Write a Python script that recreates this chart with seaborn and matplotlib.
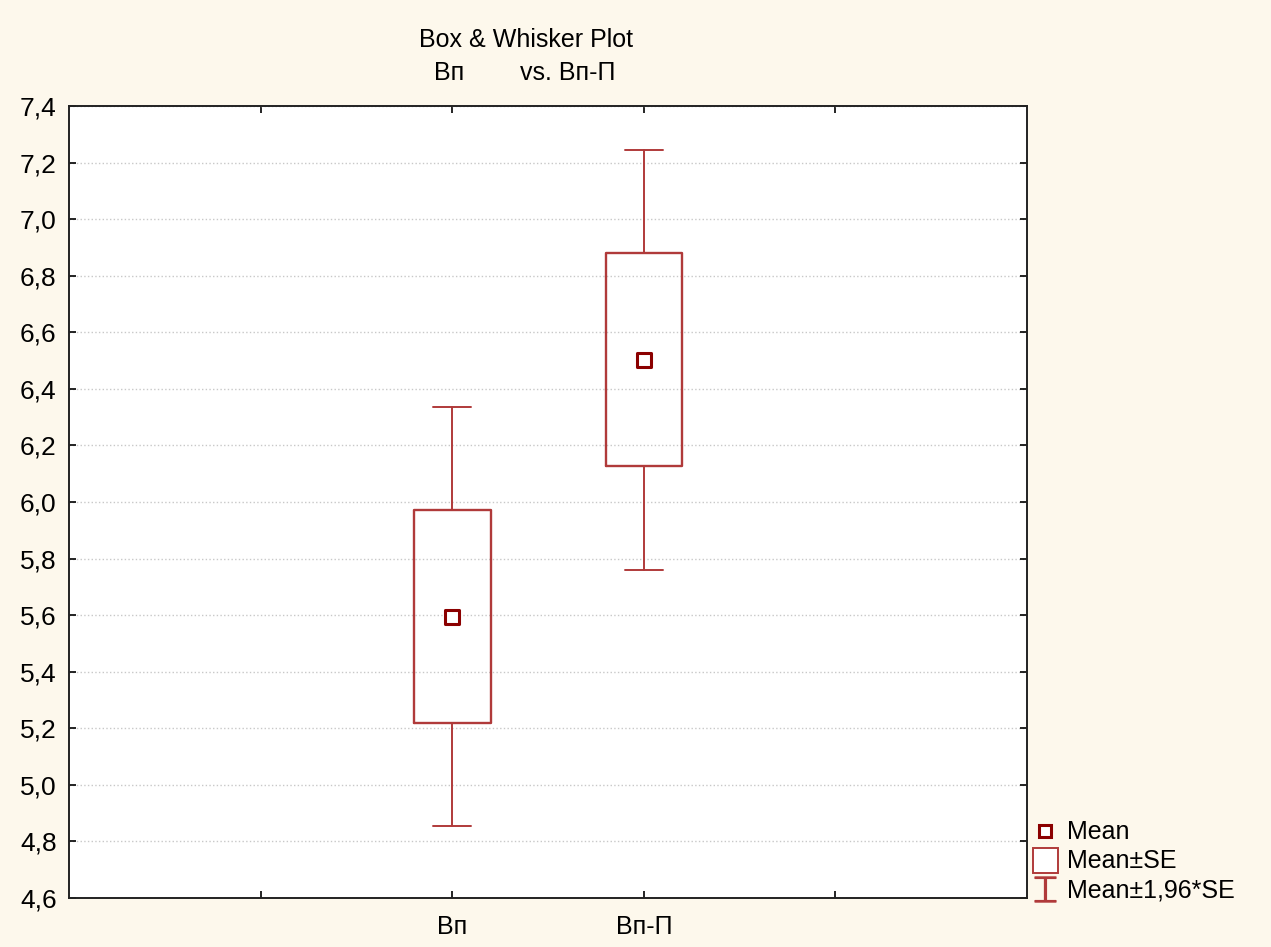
import numpy as np
import pandas as pd
import seaborn as sns
import matplotlib.pyplot as plt
from matplotlib.lines import Line2D
from matplotlib.ticker import FuncFormatter

# data
groups = ['Bп', 'Bп-П']
means = [5.594, 6.502]
se_low = [5.219, 6.127]
se_high = [5.972, 6.880]
ci_low = [4.855, 5.760]
ci_high = [6.336, 7.244]

box_col = '#b03a3a'
mean_col = '#8b0000'
bg = '#fdf8ec'

sns.set_theme(style='white')
plt.rcParams['font.family'] = ['Liberation Sans', 'DejaVu Sans']
plt.rcParams['text.color'] = 'black'
plt.rcParams['xtick.color'] = 'black'
plt.rcParams['ytick.color'] = 'black'

fig = plt.figure(figsize=(12.71, 9.47), dpi=100, facecolor=bg)
ax = fig.add_axes([0.0543, 0.0517, 0.7538, 0.8363])
ax.set_facecolor('white')

df = pd.DataFrame({'group': groups, 'mean': means})

# boxes: Mean±SE, whiskers: Mean±1,96*SE
stats = []
for i in range(len(groups)):
    stats.append({'med': means[i], 'q1': se_low[i], 'q3': se_high[i],
                  'whislo': ci_low[i], 'whishi': ci_high[i], 'fliers': []})
ax.bxp(stats, positions=range(len(groups)), widths=0.4, showcaps=True,
       boxprops=dict(color=box_col, lw=1.7),
       whiskerprops=dict(color=box_col, lw=1.4),
       capprops=dict(color=box_col, lw=1.4),
       medianprops=dict(lw=0),
       capwidths=0.2, manage_ticks=False)

sns.scatterplot(data=df, x='group', y='mean', marker='s', s=95,
                facecolor='white', edgecolor=mean_col, linewidth=2.2,
                ax=ax, zorder=5, legend=False)

ax.set_xlim(-2, 3)
ax.set_ylim(4.6, 7.4)
ax.set_yticks(np.arange(4.6, 7.41, 0.2))
ax.yaxis.set_major_formatter(FuncFormatter(lambda v, p: f'{v:.1f}'.replace('.', ',')))
ax.set_xticks([-1, 0, 1, 2])
ax.set_xticklabels(['', groups[0], groups[1], ''])
ax.set_xlabel('')
ax.set_ylabel('')
ax.grid(axis='y', color='#c8c8c8', ls=':', lw=1)
ax.tick_params(axis='y', labelsize=19, direction='in', length=5, width=1.2,
               right=True, left=True, pad=9)
ax.tick_params(axis='x', labelsize=18, direction='in', length=5, width=1.2,
               top=True, bottom=True, pad=12)
for s in ax.spines.values():
    s.set_color('#222222')
    s.set_linewidth(1.4)

fig.text(526 / 1271, 1 - 40 / 947, 'Box & Whisker Plot', ha='center', va='center', fontsize=18)
fig.text(449 / 1271, 1 - 73 / 947, 'Bп', ha='center', va='center', fontsize=18)
fig.text(568 / 1271, 1 - 73 / 947, 'vs. Bп-П', ha='center', va='center', fontsize=18)

handles = [
    Line2D([], [], marker='s', ls='', markersize=8, markerfacecolor='white',
           markeredgecolor=mean_col, markeredgewidth=2.2),
    Line2D([], [], marker='s', ls='', markersize=18, markerfacecolor='white',
           markeredgecolor=box_col, markeredgewidth=1.4),
    Line2D([], [], marker='$\u2336$', ls='', markersize=18, color=box_col),
]
fig.legend(handles, ['Mean', 'Mean±SE', 'Mean±1,96*SE'], loc='lower left',
           bbox_to_anchor=(0.811, 0.047), frameon=False, fontsize=18,
           handlelength=1.1, handletextpad=0.35, labelspacing=0.2,
           borderaxespad=0, borderpad=0)

fig.savefig('out.png', dpi=100, facecolor=bg)
